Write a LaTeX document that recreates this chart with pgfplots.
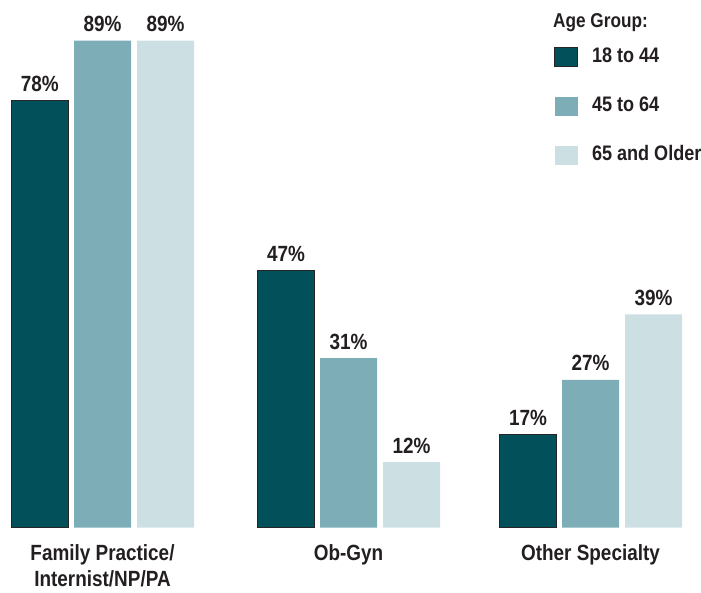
\documentclass[border=0pt]{standalone}
\usepackage{pgfplots}
\pgfplotsset{compat=1.18}
\usepackage{fontspec}
\setmainfont{Liberation Sans}[FakeStretch=0.86]
\definecolor{cdark}{HTML}{02505A}
\definecolor{cmid}{HTML}{7DAEB8}
\definecolor{clight}{HTML}{CCDFE3}
\definecolor{ctext}{HTML}{231F20}
\begin{document}
\begin{tikzpicture}
\begin{axis}[
  x=1pt, y=5.472pt,
  xmin=0, xmax=701, ymin=0, ymax=96.44,
  ybar, bar width=57pt,
  clip=false,
  /pgf/number format/assume math mode=true,
  axis line style={draw=none},
  tick style={draw=none},
  major tick length=0pt,
  ytick=\empty,
  xtick={102.5,348.5,590.5},
  xticklabels={{Family Practice/\\Internist/NP/PA},{Ob-Gyn},{Other Specialty}},
  xticklabel style={anchor=north, inner sep=0pt, yshift=-17pt, align=center,
    font=\fontsize{22}{25.6}\selectfont\bfseries, text=ctext},
  nodes near coords={\pgfmathprintnumber{\pgfplotspointmeta}\%},
  every node near coord/.append style={anchor=base, inner sep=0pt, yshift=9pt,
    font=\fontsize{22}{26}\selectfont\bfseries, text=ctext},
  legend image code/.code={\path[#1] (0pt,-9.5pt) rectangle (23pt,9.5pt);},
  legend style={at={(axis cs:554,87.85)}, anchor=north west, draw=none, fill=none,
    inner sep=0pt, row sep=30pt, column sep=0pt,
    font=\fontsize{21}{24}\selectfont\bfseries, text=ctext,
    nodes={inner sep=0pt, text height=15pt, text depth=4pt}},
  legend cell align=left,
]
\addplot[fill=cdark, draw=black!85, line width=0.8pt, bar shift=0pt]
  coordinates {(39.7,78) (286,47) (528,17)};
\addplot[fill=cmid, draw=none, bar shift=0pt]
  coordinates {(102.5,89) (348.5,31) (590.5,27)};
\addplot[fill=clight, draw=none, bar shift=0pt]
  coordinates {(165.5,89) (411.5,12) (653.5,39)};
\legend{\hspace{14pt}18 to 44,\hspace{14pt}45 to 64,\hspace{14pt}65 and Older}
\node[anchor=base west, inner sep=0pt, font=\fontsize{20}{24}\selectfont\bfseries, text=ctext]
  at (axis cs:553,91.45) {Age Group:};
\end{axis}
\pgfresetboundingbox
\path[use as bounding box] (0pt,-64.3pt) rectangle (701pt,527.7pt);
\end{tikzpicture}
\end{document}
